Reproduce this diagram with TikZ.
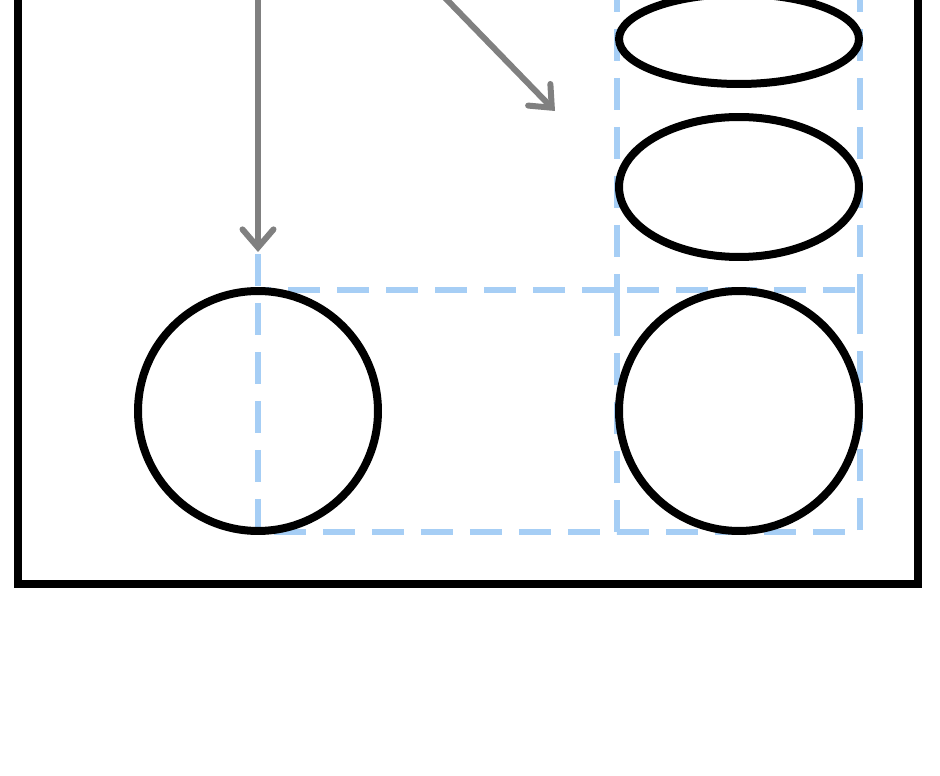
\documentclass[tikz,border=0pt]{standalone}
\usetikzlibrary{shapes.geometric,arrows.meta}
\definecolor{guideblue}{RGB}{166,206,245}
\definecolor{pointergray}{RGB}{128,128,128}
\begin{document}
\begin{tikzpicture}[x=0.02cm, y=-0.02cm,
        outline/.style={draw, line width=0.16cm, inner sep=0pt},
        guide/.style={draw=guideblue, line width=0.13cm, dash pattern=on 0.64cm off 0.34cm},
        pointer/.style={draw=pointergray, line width=0.12cm, line cap=round, -{Straight Barb[length=0.36cm, width=0.62cm, line cap=round]}}]
                \useasboundingbox (0,0) rectangle (940,776);
                \clip (0,0) rectangle (940,776);
                % dashed guides
                \draw[guide] (258,254) -- (258,532) -- (617,532) -- (617,290) -- (258,290);
                \draw[guide] (617,532) -- (860,532) -- (860,290) -- (617,290);
                \draw[guide] (617,-20) -- (617,305) (860,-20) -- (860,305);
                \node[outline, minimum width=18cm, minimum height=12.68cm] (frame) at (468,267) {};
                \node[outline, circle, minimum size=4.8cm] (leftball) at (258,411) {};
                \node[outline, circle, minimum size=4.8cm] (rightball) at (739,411) {};
                \node[outline, ellipse, minimum width=4.8cm, minimum height=1.8cm] (flatball) at (739,39) {};
                \node[outline, ellipse, minimum width=4.8cm, minimum height=2.8cm] (squashball) at (739,187) {};
                % motion
                \coordinate (dropstart) at (258,-40);
                \coordinate (dropend) at (258,252);
                \coordinate (slidestart) at (418,-30);
                \coordinate (slideend) at (555,111);
                \draw[pointer] (dropstart) -- (dropend);
                \draw[pointer] (slidestart) -- (slideend);
            \end{tikzpicture}
\end{document}
